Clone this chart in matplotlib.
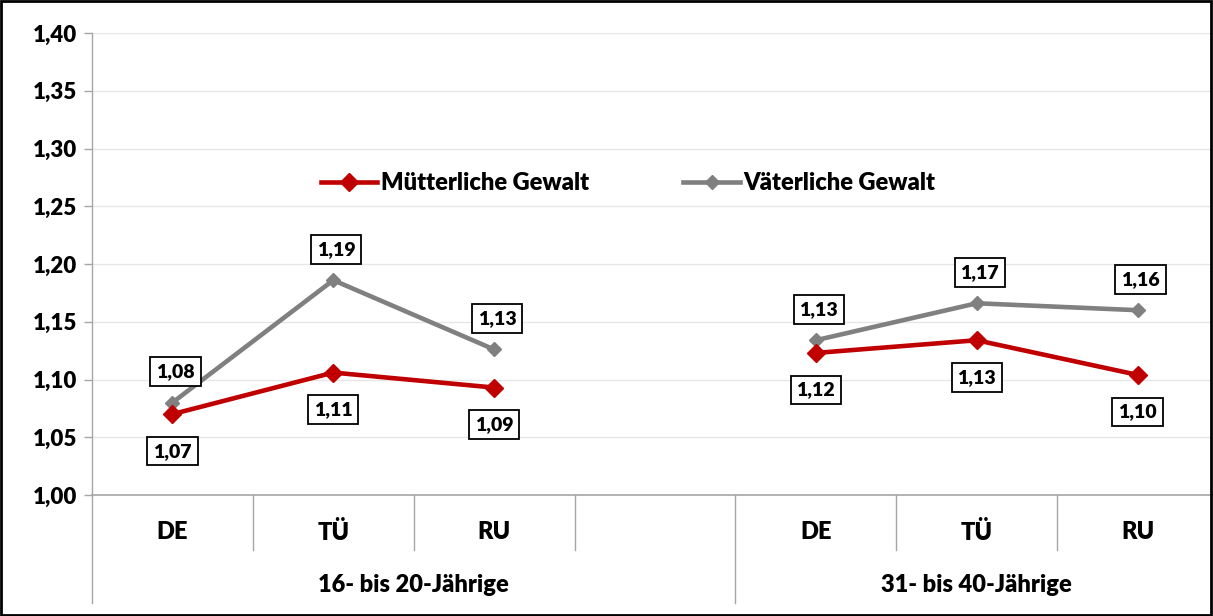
import numpy as np
import matplotlib
matplotlib.use('Agg')
import matplotlib.pyplot as plt
from matplotlib.ticker import FuncFormatter
from matplotlib.patches import Rectangle

# Data (slot 3 is the empty gap between the two age groups)
categories = ['DE', 'TÜ', 'RU', '', 'DE', 'TÜ', 'RU']
groups = ['16- bis 20-Jährige', '31- bis 40-Jährige']
group_centers = [1.5, 5.0]
mutter = [1.070, 1.106, 1.093, np.nan, 1.123, 1.134, 1.104]
vater = [1.080, 1.186, 1.126, np.nan, 1.134, 1.166, 1.160]

RED = '#C00000'
GRAY = '#808080'

plt.rcParams['font.family'] = ['Lato', 'DejaVu Sans']
plt.rcParams['font.weight'] = 'heavy'

fig = plt.figure(figsize=(12.13, 6.16), dpi=100)
ax = fig.add_axes([92 / 1213, 1 - 495 / 616, 1126 / 1213, 462 / 616])

x = np.arange(len(categories))
ax.plot(x, vater, color=GRAY, lw=3.3, marker='D', ms=7, label='Väterliche Gewalt', zorder=3)
ax.plot(x, mutter, color=RED, lw=3.3, marker='D', ms=9.5, label='Mütterliche Gewalt', zorder=4)

fmt = lambda v: f'{v:.2f}'.replace('.', ',')
box = dict(boxstyle='square,pad=0.3', fc='white', ec='black', lw=1.3)
for xi, v in zip(x, vater):
    if np.isnan(v):
        continue
    ax.annotate(fmt(v), (xi, v), xytext=(3, 31), textcoords='offset pixels',
                ha='center', va='center', fontsize=14, fontweight='heavy', bbox=box, zorder=5)
for xi, v in zip(x, mutter):
    if np.isnan(v):
        continue
    ax.annotate(fmt(v), (xi, v), xytext=(0, -37), textcoords='offset pixels',
                ha='center', va='center', fontsize=14, fontweight='heavy', bbox=box, zorder=5)

ax.set_xlim(-0.5, len(categories) - 0.5)
ax.set_ylim(1.0, 1.4)
ax.set_yticks(np.arange(1.0, 1.401, 0.05))
ax.yaxis.set_major_formatter(FuncFormatter(lambda v, p: fmt(v)))
ax.tick_params(axis='y', labelsize=16, length=6, color='#a6a6a6', width=1, pad=5)
for lab in ax.get_yticklabels():
    lab.set_fontweight('heavy')
ax.grid(axis='y', color='#e6e6e6', lw=1)
ax.set_axisbelow(True)
for s in ['top', 'right']:
    ax.spines[s].set_visible(False)
ax.spines['left'].set_color('#a6a6a6')
ax.spines['bottom'].set_color('#a6a6a6')
ax.spines['left'].set_linewidth(1)
ax.spines['bottom'].set_linewidth(1.2)

# Two-level category axis
ax.set_xticks([])
trans = ax.get_xaxis_transform()
for xi, c in zip(x, categories):
    if c:
        ax.text(xi, -37 / 462, c, transform=trans, ha='center', va='center',
                fontsize=17, fontweight='heavy')
short_seps = [0.5, 1.5, 2.5, 4.5, 5.5]
long_seps = [-0.5, 3.5]
for s in short_seps:
    ax.plot([s, s], [0, -55 / 462], transform=trans, color='#a6a6a6', lw=1, clip_on=False)
for s in long_seps:
    ax.plot([s, s], [0, -108 / 462], transform=trans, color='#a6a6a6', lw=1, clip_on=False)
for g, c in zip(groups, group_centers):
    ax.text(c, -90 / 462, g, transform=trans, ha='center', va='center',
            fontsize=17, fontweight='heavy')

handles, labels = ax.get_legend_handles_labels()
leg = ax.legend(handles[::-1], labels[::-1], loc='center', bbox_to_anchor=(628 / 1213, 1 - 183 / 616),
                bbox_transform=fig.transFigure, ncol=2, frameon=False, fontsize=17,
                handlelength=2.4, handletextpad=0.15, columnspacing=4.0)
for t in leg.get_texts():
    t.set_fontweight('heavy')

fig.patches.append(Rectangle((0.001, 0.002), 0.997, 0.996, transform=fig.transFigure,
                             fill=False, ec='black', lw=2))

fig.savefig('out.png', dpi=100)
